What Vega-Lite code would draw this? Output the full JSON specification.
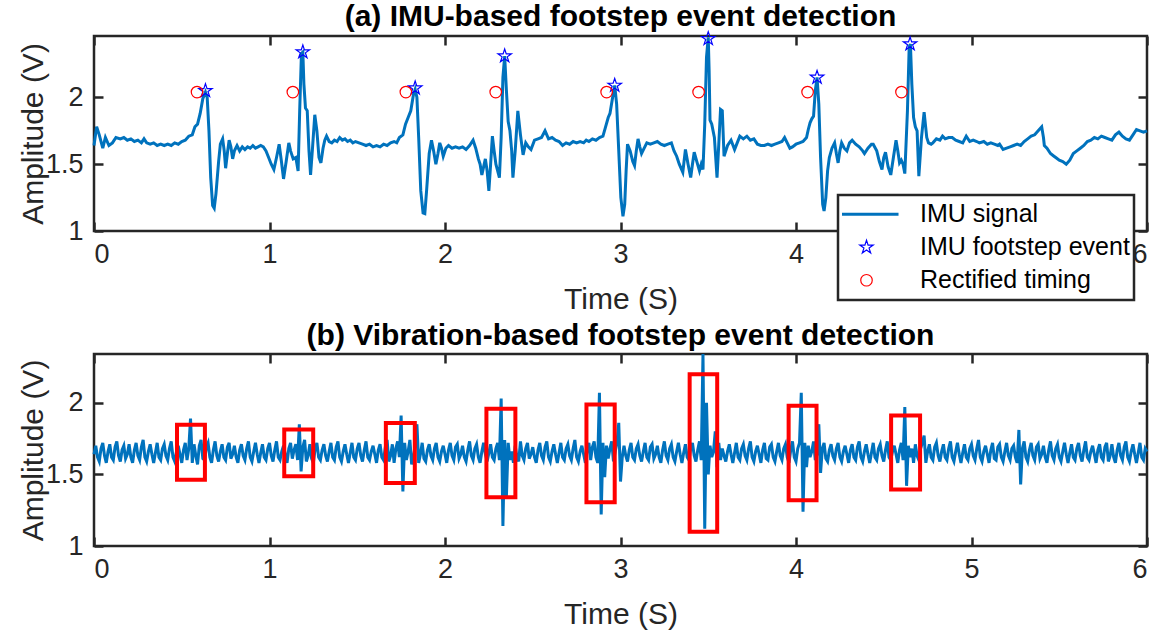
{
"$schema": "https://vega.github.io/schema/vega-lite/v6.json",
"padding": {"left": 17, "top": 0, "right": 5, "bottom": 0},
"background": "white",
"spacing": 3,
"config": {
  "font": "Liberation Sans",
  "view": {"stroke": "#262626", "strokeWidth": 2.5},
  "axis": {"grid": false, "domain": false, "tickColor": "#262626", "tickWidth": 2.5, "tickSize": 9, "offset": -9, "labelColor": "#262626", "labelFontSize": 27, "titleColor": "#262626", "titleFontSize": 30, "titleFontWeight": "normal"},
  "axisLeft": {"labelPadding": 11, "titlePadding": -3},
  "axisBottom": {"labelPadding": 10, "titlePadding": 17},
  "title": {"fontSize": 30, "fontWeight": "bold", "color": "black", "anchor": "middle", "offset": -3}
},
"vconcat": [
  {
    "title": "(a) IMU-based footstep event detection",
    "width": 1053,
    "height": 195,
    "resolve": {"axis": {"x": "independent", "y": "independent"}},
    "layer": [
      {
        "data": {"values": [
{"t":0,"v":1.64},{"t":0.015,"v":1.78},{"t":0.03,"v":1.72},{"t":0.05,"v":1.62},{"t":0.065,"v":1.7},{"t":0.085,"v":1.64},{"t":0.105,"v":1.66},{"t":0.125,"v":1.7},{"t":0.15,"v":1.69},{"t":0.17,"v":1.7},{"t":0.19,"v":1.68},{"t":0.21,"v":1.69},{"t":0.23,"v":1.67},{"t":0.25,"v":1.68},{"t":0.27,"v":1.66},{"t":0.285,"v":1.69},{"t":0.3,"v":1.66},{"t":0.32,"v":1.65},{"t":0.34,"v":1.66},{"t":0.36,"v":1.64},{"t":0.38,"v":1.65},{"t":0.4,"v":1.64},{"t":0.42,"v":1.65},{"t":0.44,"v":1.64},{"t":0.46,"v":1.66},{"t":0.48,"v":1.65},{"t":0.5,"v":1.67},{"t":0.52,"v":1.68},{"t":0.54,"v":1.71},{"t":0.56,"v":1.72},{"t":0.575,"v":1.78},{"t":0.59,"v":1.8},{"t":0.605,"v":1.88},{"t":0.62,"v":1.99},{"t":0.635,"v":2.04},{"t":0.645,"v":2.0},{"t":0.655,"v":1.75},{"t":0.665,"v":1.4},{"t":0.676,"v":1.19},{"t":0.685,"v":1.17},{"t":0.695,"v":1.28},{"t":0.71,"v":1.52},{"t":0.72,"v":1.65},{"t":0.733,"v":1.69},{"t":0.742,"v":1.6},{"t":0.75,"v":1.47},{"t":0.76,"v":1.58},{"t":0.77,"v":1.68},{"t":0.78,"v":1.63},{"t":0.79,"v":1.54},{"t":0.8,"v":1.6},{"t":0.815,"v":1.64},{"t":0.83,"v":1.6},{"t":0.845,"v":1.63},{"t":0.86,"v":1.61},{"t":0.875,"v":1.63},{"t":0.89,"v":1.62},{"t":0.905,"v":1.64},{"t":0.92,"v":1.62},{"t":0.935,"v":1.63},{"t":0.95,"v":1.64},{"t":0.965,"v":1.63},{"t":0.98,"v":1.6},{"t":0.995,"v":1.55},{"t":1.01,"v":1.5},{"t":1.025,"v":1.46},{"t":1.04,"v":1.55},{"t":1.055,"v":1.65},{"t":1.068,"v":1.52},{"t":1.08,"v":1.39},{"t":1.095,"v":1.52},{"t":1.11,"v":1.66},{"t":1.12,"v":1.6},{"t":1.135,"v":1.54},{"t":1.15,"v":1.55},{"t":1.163,"v":1.45},{"t":1.172,"v":1.9},{"t":1.182,"v":2.33},{"t":1.19,"v":2.34},{"t":1.196,"v":2.1},{"t":1.205,"v":1.92},{"t":1.215,"v":1.9},{"t":1.225,"v":1.6},{"t":1.234,"v":1.42},{"t":1.245,"v":1.62},{"t":1.258,"v":1.87},{"t":1.27,"v":1.75},{"t":1.282,"v":1.55},{"t":1.293,"v":1.51},{"t":1.305,"v":1.62},{"t":1.315,"v":1.68},{"t":1.325,"v":1.71},{"t":1.34,"v":1.67},{"t":1.355,"v":1.66},{"t":1.37,"v":1.68},{"t":1.385,"v":1.67},{"t":1.4,"v":1.7},{"t":1.415,"v":1.68},{"t":1.43,"v":1.69},{"t":1.445,"v":1.67},{"t":1.46,"v":1.68},{"t":1.475,"v":1.66},{"t":1.49,"v":1.67},{"t":1.51,"v":1.66},{"t":1.53,"v":1.65},{"t":1.55,"v":1.64},{"t":1.57,"v":1.65},{"t":1.59,"v":1.63},{"t":1.61,"v":1.64},{"t":1.63,"v":1.63},{"t":1.65,"v":1.65},{"t":1.67,"v":1.64},{"t":1.69,"v":1.66},{"t":1.71,"v":1.67},{"t":1.725,"v":1.66},{"t":1.74,"v":1.7},{"t":1.76,"v":1.72},{"t":1.775,"v":1.8},{"t":1.79,"v":1.85},{"t":1.805,"v":1.9},{"t":1.82,"v":2.02},{"t":1.83,"v":2.06},{"t":1.84,"v":2.0},{"t":1.85,"v":1.7},{"t":1.862,"v":1.3},{"t":1.875,"v":1.135},{"t":1.885,"v":1.13},{"t":1.895,"v":1.3},{"t":1.91,"v":1.58},{"t":1.923,"v":1.68},{"t":1.935,"v":1.6},{"t":1.948,"v":1.5},{"t":1.96,"v":1.58},{"t":1.97,"v":1.66},{"t":1.98,"v":1.62},{"t":1.99,"v":1.56},{"t":2.005,"v":1.62},{"t":2.02,"v":1.64},{"t":2.04,"v":1.62},{"t":2.06,"v":1.63},{"t":2.08,"v":1.62},{"t":2.1,"v":1.63},{"t":2.12,"v":1.61},{"t":2.14,"v":1.64},{"t":2.16,"v":1.68},{"t":2.175,"v":1.62},{"t":2.19,"v":1.54},{"t":2.2,"v":1.5},{"t":2.21,"v":1.42},{"t":2.22,"v":1.48},{"t":2.23,"v":1.54},{"t":2.24,"v":1.45},{"t":2.25,"v":1.3},{"t":2.26,"v":1.5},{"t":2.27,"v":1.71},{"t":2.28,"v":1.6},{"t":2.29,"v":1.5},{"t":2.3,"v":1.45},{"t":2.31,"v":1.4},{"t":2.32,"v":1.7},{"t":2.33,"v":2.15},{"t":2.34,"v":2.31},{"t":2.35,"v":2.05},{"t":2.36,"v":1.82},{"t":2.37,"v":1.75},{"t":2.38,"v":1.6},{"t":2.387,"v":1.4},{"t":2.4,"v":1.6},{"t":2.415,"v":1.9},{"t":2.43,"v":1.72},{"t":2.445,"v":1.57},{"t":2.46,"v":1.66},{"t":2.475,"v":1.63},{"t":2.49,"v":1.61},{"t":2.51,"v":1.68},{"t":2.53,"v":1.69},{"t":2.55,"v":1.7},{"t":2.57,"v":1.75},{"t":2.59,"v":1.69},{"t":2.61,"v":1.7},{"t":2.63,"v":1.68},{"t":2.65,"v":1.67},{"t":2.67,"v":1.64},{"t":2.69,"v":1.66},{"t":2.71,"v":1.65},{"t":2.73,"v":1.67},{"t":2.75,"v":1.66},{"t":2.77,"v":1.67},{"t":2.79,"v":1.66},{"t":2.805,"v":1.68},{"t":2.82,"v":1.67},{"t":2.84,"v":1.69},{"t":2.86,"v":1.68},{"t":2.88,"v":1.7},{"t":2.9,"v":1.71},{"t":2.915,"v":1.78},{"t":2.93,"v":1.85},{"t":2.94,"v":1.88},{"t":2.955,"v":2.0},{"t":2.967,"v":2.09},{"t":2.978,"v":1.95},{"t":2.99,"v":1.6},{"t":3.002,"v":1.25},{"t":3.014,"v":1.11},{"t":3.024,"v":1.2},{"t":3.032,"v":1.45},{"t":3.04,"v":1.65},{"t":3.055,"v":1.6},{"t":3.07,"v":1.52},{"t":3.08,"v":1.49},{"t":3.09,"v":1.6},{"t":3.1,"v":1.69},{"t":3.11,"v":1.63},{"t":3.12,"v":1.58},{"t":3.135,"v":1.62},{"t":3.15,"v":1.66},{"t":3.17,"v":1.65},{"t":3.19,"v":1.66},{"t":3.21,"v":1.67},{"t":3.23,"v":1.65},{"t":3.25,"v":1.64},{"t":3.27,"v":1.65},{"t":3.29,"v":1.66},{"t":3.305,"v":1.6},{"t":3.32,"v":1.56},{"t":3.335,"v":1.5},{"t":3.355,"v":1.44},{"t":3.37,"v":1.61},{"t":3.385,"v":1.5},{"t":3.4,"v":1.4},{"t":3.41,"v":1.5},{"t":3.42,"v":1.59},{"t":3.435,"v":1.52},{"t":3.45,"v":1.45},{"t":3.46,"v":1.5},{"t":3.47,"v":1.46},{"t":3.48,"v":1.8},{"t":3.49,"v":2.3},{"t":3.5,"v":2.45},{"t":3.505,"v":2.2},{"t":3.51,"v":1.83},{"t":3.52,"v":1.8},{"t":3.535,"v":1.7},{"t":3.55,"v":1.4},{"t":3.56,"v":1.65},{"t":3.57,"v":1.91},{"t":3.58,"v":1.9},{"t":3.59,"v":1.56},{"t":3.61,"v":1.64},{"t":3.63,"v":1.68},{"t":3.65,"v":1.61},{"t":3.665,"v":1.66},{"t":3.68,"v":1.71},{"t":3.7,"v":1.69},{"t":3.72,"v":1.71},{"t":3.74,"v":1.68},{"t":3.76,"v":1.69},{"t":3.78,"v":1.65},{"t":3.8,"v":1.64},{"t":3.82,"v":1.64},{"t":3.84,"v":1.65},{"t":3.86,"v":1.64},{"t":3.88,"v":1.65},{"t":3.9,"v":1.66},{"t":3.92,"v":1.67},{"t":3.935,"v":1.7},{"t":3.95,"v":1.66},{"t":3.965,"v":1.62},{"t":3.98,"v":1.63},{"t":4.0,"v":1.65},{"t":4.02,"v":1.66},{"t":4.04,"v":1.67},{"t":4.06,"v":1.7},{"t":4.07,"v":1.76},{"t":4.08,"v":1.81},{"t":4.09,"v":1.84},{"t":4.1,"v":1.86},{"t":4.11,"v":2.05},{"t":4.12,"v":2.15},{"t":4.13,"v":1.95},{"t":4.14,"v":1.55},{"t":4.152,"v":1.2},{"t":4.16,"v":1.15},{"t":4.17,"v":1.25},{"t":4.18,"v":1.45},{"t":4.19,"v":1.55},{"t":4.205,"v":1.62},{"t":4.22,"v":1.66},{"t":4.23,"v":1.58},{"t":4.24,"v":1.51},{"t":4.25,"v":1.6},{"t":4.26,"v":1.66},{"t":4.275,"v":1.62},{"t":4.29,"v":1.6},{"t":4.305,"v":1.66},{"t":4.32,"v":1.68},{"t":4.34,"v":1.65},{"t":4.36,"v":1.63},{"t":4.38,"v":1.6},{"t":4.39,"v":1.58},{"t":4.41,"v":1.62},{"t":4.43,"v":1.65},{"t":4.44,"v":1.65},{"t":4.46,"v":1.6},{"t":4.475,"v":1.52},{"t":4.49,"v":1.46},{"t":4.5,"v":1.55},{"t":4.51,"v":1.59},{"t":4.525,"v":1.48},{"t":4.54,"v":1.42},{"t":4.555,"v":1.55},{"t":4.57,"v":1.68},{"t":4.58,"v":1.6},{"t":4.59,"v":1.51},{"t":4.6,"v":1.53},{"t":4.61,"v":1.5},{"t":4.62,"v":1.43},{"t":4.635,"v":1.9},{"t":4.645,"v":2.38},{"t":4.652,"v":2.4},{"t":4.66,"v":2.1},{"t":4.67,"v":1.85},{"t":4.68,"v":1.78},{"t":4.69,"v":1.75},{"t":4.7,"v":1.41},{"t":4.715,"v":1.7},{"t":4.73,"v":1.89},{"t":4.745,"v":1.7},{"t":4.755,"v":1.66},{"t":4.77,"v":1.65},{"t":4.78,"v":1.66},{"t":4.8,"v":1.69},{"t":4.82,"v":1.68},{"t":4.835,"v":1.71},{"t":4.85,"v":1.69},{"t":4.87,"v":1.7},{"t":4.89,"v":1.7},{"t":4.91,"v":1.68},{"t":4.93,"v":1.67},{"t":4.95,"v":1.66},{"t":4.97,"v":1.71},{"t":4.99,"v":1.67},{"t":5.01,"v":1.68},{"t":5.03,"v":1.67},{"t":5.045,"v":1.66},{"t":5.07,"v":1.67},{"t":5.09,"v":1.65},{"t":5.11,"v":1.66},{"t":5.13,"v":1.65},{"t":5.15,"v":1.64},{"t":5.16,"v":1.65},{"t":5.18,"v":1.61},{"t":5.2,"v":1.62},{"t":5.22,"v":1.63},{"t":5.24,"v":1.64},{"t":5.26,"v":1.65},{"t":5.28,"v":1.64},{"t":5.3,"v":1.67},{"t":5.32,"v":1.69},{"t":5.34,"v":1.71},{"t":5.36,"v":1.72},{"t":5.38,"v":1.75},{"t":5.4,"v":1.78},{"t":5.41,"v":1.7},{"t":5.415,"v":1.64},{"t":5.43,"v":1.62},{"t":5.45,"v":1.58},{"t":5.47,"v":1.56},{"t":5.48,"v":1.55},{"t":5.5,"v":1.53},{"t":5.52,"v":1.52},{"t":5.54,"v":1.5},{"t":5.56,"v":1.53},{"t":5.58,"v":1.58},{"t":5.6,"v":1.6},{"t":5.62,"v":1.62},{"t":5.64,"v":1.64},{"t":5.66,"v":1.67},{"t":5.68,"v":1.68},{"t":5.7,"v":1.7},{"t":5.72,"v":1.69},{"t":5.74,"v":1.71},{"t":5.76,"v":1.7},{"t":5.78,"v":1.69},{"t":5.8,"v":1.68},{"t":5.82,"v":1.72},{"t":5.84,"v":1.74},{"t":5.86,"v":1.71},{"t":5.88,"v":1.69},{"t":5.9,"v":1.68},{"t":5.92,"v":1.72},{"t":5.94,"v":1.76},{"t":5.96,"v":1.75},{"t":5.98,"v":1.74},{"t":6.0,"v":1.75}
        ]},
        "mark": {"type": "line", "strokeWidth": 3},
        "encoding": {
          "x": {"field": "t", "type": "quantitative", "scale": {"domain": [0, 6], "nice": false, "zero": false},
                "axis": {"orient": "bottom", "values": [0,1,2,3,4,5,6], "title": "Time (S)", "format": "~g"}},
          "y": {"field": "v", "type": "quantitative", "scale": {"domain": [1, 2.46], "nice": false, "zero": false},
                "axis": {"orient": "left", "values": [1, 1.5, 2], "title": "Amplitude (V)", "format": "~g"}},
          "stroke": {"datum": "IMU signal", "type": "nominal",
                     "scale": {"domain": ["IMU signal", "IMU footstep event", "Rectified timing"], "range": ["#0072BD", "#0000FF", "#FF0000"]},
                     "legend": {"title": null, "orient": "none", "legendX": 744, "legendY": 159, "labelFontSize": 25, "labelColor": "black", "labelLimit": 400, "symbolSize": 4100, "symbolType": "stroke", "symbolStrokeWidth": 3, "clipHeight": 30.5, "rowPadding": 2, "padding": 4, "symbolOffset": 12, "labelOffset": 41, "strokeColor": "#262626", "fillColor": "white",
                       "encode": {
                         "legend": {"update": {"strokeWidth": {"value": 2.5}}},
                         "symbols": {"update": {
                           "shape": {"signal": "datum.value === 'IMU signal' ? 'stroke' : (datum.value === 'IMU footstep event' ? 'M0,-1L0.2245,-0.309L0.951,-0.309L0.363,0.118L0.588,0.809L0,0.382L-0.588,0.809L-0.363,0.118L-0.951,-0.309L-0.2245,-0.309Z' : 'circle')"},
                           "size": {"signal": "datum.value === 'IMU signal' ? 4100 : (datum.value === 'IMU footstep event' ? 200 : 133)"},
                           "strokeWidth": {"signal": "datum.value === 'IMU signal' ? 3 : 1.2"},
                           "fill": {"value": "transparent"}
                         }}
                       }}}
        }
      },
      {
        "data": {"values": [
{"t":0.635,"v":2.05},{"t":1.19,"v":2.34},{"t":1.83,"v":2.07},{"t":2.34,"v":2.31},{"t":2.967,"v":2.09},{"t":3.5,"v":2.44},{"t":4.12,"v":2.15},{"t":4.65,"v":2.4}
        ]},
        "mark": {"type": "point", "shape": "M0,-1L0.2245,-0.309L0.951,-0.309L0.363,0.118L0.588,0.809L0,0.382L-0.588,0.809L-0.363,0.118L-0.951,-0.309L-0.2245,-0.309Z", "size": 200, "filled": false, "stroke": "#0000FF", "strokeWidth": 1.2, "opacity": 1},
        "encoding": {
          "x": {"field": "t", "type": "quantitative", "axis": {"orient": "top", "values": [0,1,2,3,4,5,6], "labels": false, "title": null}},
          "y": {"field": "v", "type": "quantitative", "axis": {"orient": "right", "values": [1, 1.5, 2], "labels": false, "title": null}}
        }
      },
      {
        "data": {"values": [
{"t":0.587,"v":2.04},{"t":1.133,"v":2.04},{"t":1.777,"v":2.04},{"t":2.289,"v":2.04},{"t":2.921,"v":2.04},{"t":3.445,"v":2.04},{"t":4.066,"v":2.04},{"t":4.601,"v":2.04}
        ]},
        "mark": {"type": "point", "shape": "circle", "size": 133, "filled": false, "stroke": "#FF0000", "strokeWidth": 1.2, "opacity": 1},
        "encoding": {
          "x": {"field": "t", "type": "quantitative", "axis": null},
          "y": {"field": "v", "type": "quantitative", "axis": null}
        }
      }
    ]
  },
  {
    "title": "(b) Vibration-based footstep event detection",
    "width": 1053,
    "height": 192,
    "resolve": {"axis": {"x": "independent", "y": "independent"}},
    "layer": [
      {
        "data": {"values": [
{"t":0.00,"v":1.64},{"t":0.01,"v":1.70},{"t":0.02,"v":1.62},{"t":0.03,"v":1.59},{"t":0.04,"v":1.68},{"t":0.05,"v":1.72},{"t":0.06,"v":1.63},{"t":0.07,"v":1.58},{"t":0.08,"v":1.66},{"t":0.09,"v":1.71},
{"t":0.10,"v":1.62},{"t":0.11,"v":1.60},{"t":0.12,"v":1.69},{"t":0.13,"v":1.73},{"t":0.14,"v":1.63},{"t":0.15,"v":1.59},{"t":0.16,"v":1.67},{"t":0.17,"v":1.70},{"t":0.18,"v":1.61},{"t":0.19,"v":1.64},
{"t":0.20,"v":1.71},{"t":0.21,"v":1.62},{"t":0.22,"v":1.58},{"t":0.23,"v":1.67},{"t":0.24,"v":1.72},{"t":0.25,"v":1.63},{"t":0.26,"v":1.60},{"t":0.27,"v":1.69},{"t":0.28,"v":1.74},{"t":0.29,"v":1.62},
{"t":0.30,"v":1.59},{"t":0.31,"v":1.66},{"t":0.32,"v":1.71},{"t":0.33,"v":1.64},{"t":0.34,"v":1.58},{"t":0.35,"v":1.65},{"t":0.36,"v":1.72},{"t":0.37,"v":1.62},{"t":0.38,"v":1.60},{"t":0.39,"v":1.68},
{"t":0.40,"v":1.71},{"t":0.41,"v":1.63},{"t":0.42,"v":1.60},{"t":0.43,"v":1.68},{"t":0.44,"v":1.73},{"t":0.45,"v":1.62},{"t":0.46,"v":1.59},{"t":0.47,"v":1.66},{"t":0.48,"v":1.70},{"t":0.49,"v":1.64},
{"t":0.50,"v":1.58},{"t":0.51,"v":1.67},{"t":0.52,"v":1.72},{"t":0.53,"v":1.60},{"t":0.54,"v":1.68},{"t":0.55,"v":1.89},{"t":0.56,"v":1.58},{"t":0.57,"v":1.71},{"t":0.58,"v":1.63},{"t":0.59,"v":1.57},
{"t":0.60,"v":1.70},{"t":0.61,"v":1.74},{"t":0.62,"v":1.61},{"t":0.63,"v":1.60},{"t":0.64,"v":1.69},{"t":0.65,"v":1.72},{"t":0.66,"v":1.62},{"t":0.67,"v":1.58},{"t":0.68,"v":1.67},{"t":0.69,"v":1.73},
{"t":0.70,"v":1.63},{"t":0.71,"v":1.59},{"t":0.72,"v":1.66},{"t":0.73,"v":1.71},{"t":0.74,"v":1.62},{"t":0.75,"v":1.60},{"t":0.76,"v":1.69},{"t":0.77,"v":1.72},{"t":0.78,"v":1.61},{"t":0.79,"v":1.64},
{"t":0.80,"v":1.70},{"t":0.81,"v":1.62},{"t":0.82,"v":1.58},{"t":0.83,"v":1.67},{"t":0.84,"v":1.71},{"t":0.85,"v":1.63},{"t":0.86,"v":1.60},{"t":0.87,"v":1.68},{"t":0.88,"v":1.73},{"t":0.89,"v":1.62},
{"t":0.90,"v":1.59},{"t":0.91,"v":1.66},{"t":0.92,"v":1.72},{"t":0.93,"v":1.64},{"t":0.94,"v":1.58},{"t":0.95,"v":1.65},{"t":0.96,"v":1.71},{"t":0.97,"v":1.62},{"t":0.98,"v":1.60},{"t":0.99,"v":1.68},
{"t":1.00,"v":1.72},{"t":1.01,"v":1.63},{"t":1.02,"v":1.59},{"t":1.03,"v":1.67},{"t":1.04,"v":1.73},{"t":1.05,"v":1.62},{"t":1.06,"v":1.60},{"t":1.07,"v":1.66},{"t":1.08,"v":1.70},{"t":1.09,"v":1.64},
{"t":1.10,"v":1.58},{"t":1.11,"v":1.68},{"t":1.12,"v":1.72},{"t":1.13,"v":1.61},{"t":1.14,"v":1.67},{"t":1.15,"v":1.71},{"t":1.16,"v":1.60},{"t":1.17,"v":1.85},{"t":1.18,"v":1.52},{"t":1.19,"v":1.69},
{"t":1.20,"v":1.74},{"t":1.21,"v":1.59},{"t":1.22,"v":1.63},{"t":1.23,"v":1.71},{"t":1.24,"v":1.61},{"t":1.25,"v":1.58},{"t":1.26,"v":1.68},{"t":1.27,"v":1.72},{"t":1.28,"v":1.62},{"t":1.29,"v":1.60},
{"t":1.30,"v":1.67},{"t":1.31,"v":1.71},{"t":1.32,"v":1.63},{"t":1.33,"v":1.59},{"t":1.34,"v":1.66},{"t":1.35,"v":1.72},{"t":1.36,"v":1.62},{"t":1.37,"v":1.60},{"t":1.38,"v":1.69},{"t":1.39,"v":1.73},
{"t":1.40,"v":1.62},{"t":1.41,"v":1.59},{"t":1.42,"v":1.66},{"t":1.43,"v":1.71},{"t":1.44,"v":1.64},{"t":1.45,"v":1.58},{"t":1.46,"v":1.65},{"t":1.47,"v":1.72},{"t":1.48,"v":1.62},{"t":1.49,"v":1.60},
{"t":1.50,"v":1.68},{"t":1.51,"v":1.72},{"t":1.52,"v":1.63},{"t":1.53,"v":1.59},{"t":1.54,"v":1.67},{"t":1.55,"v":1.73},{"t":1.56,"v":1.62},{"t":1.57,"v":1.60},{"t":1.58,"v":1.66},{"t":1.59,"v":1.70},
{"t":1.60,"v":1.64},{"t":1.61,"v":1.58},{"t":1.62,"v":1.67},{"t":1.63,"v":1.71},{"t":1.64,"v":1.62},{"t":1.65,"v":1.60},{"t":1.66,"v":1.69},{"t":1.67,"v":1.74},{"t":1.68,"v":1.59},{"t":1.69,"v":1.63},
{"t":1.70,"v":1.71},{"t":1.71,"v":1.58},{"t":1.72,"v":1.68},{"t":1.73,"v":1.73},{"t":1.74,"v":1.62},{"t":1.75,"v":1.91},{"t":1.76,"v":1.38},{"t":1.77,"v":1.72},{"t":1.78,"v":1.60},{"t":1.79,"v":1.66},
{"t":1.80,"v":1.74},{"t":1.81,"v":1.57},{"t":1.82,"v":1.62},{"t":1.83,"v":1.70},{"t":1.84,"v":1.85},{"t":1.85,"v":1.58},{"t":1.86,"v":1.64},{"t":1.87,"v":1.72},{"t":1.88,"v":1.61},{"t":1.89,"v":1.59},
{"t":1.90,"v":1.67},{"t":1.91,"v":1.71},{"t":1.92,"v":1.63},{"t":1.93,"v":1.60},{"t":1.94,"v":1.68},{"t":1.95,"v":1.72},{"t":1.96,"v":1.62},{"t":1.97,"v":1.59},{"t":1.98,"v":1.66},{"t":1.99,"v":1.70},
{"t":2.00,"v":1.64},{"t":2.01,"v":1.58},{"t":2.02,"v":1.67},{"t":2.03,"v":1.72},{"t":2.04,"v":1.63},{"t":2.05,"v":1.60},{"t":2.06,"v":1.69},{"t":2.07,"v":1.71},{"t":2.08,"v":1.61},{"t":2.09,"v":1.64},
{"t":2.10,"v":1.70},{"t":2.11,"v":1.62},{"t":2.12,"v":1.59},{"t":2.13,"v":1.67},{"t":2.14,"v":1.73},{"t":2.15,"v":1.63},{"t":2.16,"v":1.60},{"t":2.17,"v":1.68},{"t":2.18,"v":1.71},{"t":2.19,"v":1.62},
{"t":2.20,"v":1.58},{"t":2.21,"v":1.66},{"t":2.22,"v":1.72},{"t":2.23,"v":1.64},{"t":2.24,"v":1.59},{"t":2.25,"v":1.65},{"t":2.26,"v":1.71},{"t":2.27,"v":1.62},{"t":2.28,"v":1.60},{"t":2.29,"v":1.68},
{"t":2.30,"v":1.72},{"t":2.31,"v":1.60},{"t":2.32,"v":2.03},{"t":2.33,"v":1.14},{"t":2.34,"v":1.74},{"t":2.35,"v":1.35},{"t":2.36,"v":1.72},{"t":2.37,"v":1.60},{"t":2.38,"v":1.66},{"t":2.39,"v":1.58},
{"t":2.40,"v":1.70},{"t":2.41,"v":1.62},{"t":2.42,"v":1.59},{"t":2.43,"v":1.73},{"t":2.44,"v":1.63},{"t":2.45,"v":1.60},{"t":2.46,"v":1.68},{"t":2.47,"v":1.72},{"t":2.48,"v":1.61},{"t":2.49,"v":1.64},
{"t":2.50,"v":1.69},{"t":2.51,"v":1.62},{"t":2.52,"v":1.58},{"t":2.53,"v":1.67},{"t":2.54,"v":1.72},{"t":2.55,"v":1.63},{"t":2.56,"v":1.60},{"t":2.57,"v":1.69},{"t":2.58,"v":1.73},{"t":2.59,"v":1.62},
{"t":2.60,"v":1.59},{"t":2.61,"v":1.66},{"t":2.62,"v":1.71},{"t":2.63,"v":1.64},{"t":2.64,"v":1.58},{"t":2.65,"v":1.65},{"t":2.66,"v":1.72},{"t":2.67,"v":1.62},{"t":2.68,"v":1.60},{"t":2.69,"v":1.68},
{"t":2.70,"v":1.71},{"t":2.71,"v":1.63},{"t":2.72,"v":1.60},{"t":2.73,"v":1.68},{"t":2.74,"v":1.74},{"t":2.75,"v":1.62},{"t":2.76,"v":1.59},{"t":2.77,"v":1.66},{"t":2.78,"v":1.70},{"t":2.79,"v":1.64},
{"t":2.80,"v":1.58},{"t":2.81,"v":1.67},{"t":2.82,"v":1.72},{"t":2.83,"v":1.60},{"t":2.84,"v":1.69},{"t":2.85,"v":1.73},{"t":2.86,"v":1.62},{"t":2.87,"v":1.58},{"t":2.88,"v":2.07},{"t":2.89,"v":1.22},
{"t":2.90,"v":1.72},{"t":2.91,"v":1.48},{"t":2.92,"v":1.70},{"t":2.93,"v":1.61},{"t":2.94,"v":1.68},{"t":2.95,"v":1.73},{"t":2.96,"v":1.59},{"t":2.97,"v":1.66},{"t":2.98,"v":1.72},{"t":2.99,"v":1.86},
{"t":3.00,"v":1.45},{"t":3.01,"v":1.62},{"t":3.02,"v":1.70},{"t":3.03,"v":1.63},{"t":3.04,"v":1.59},{"t":3.05,"v":1.67},{"t":3.06,"v":1.72},{"t":3.07,"v":1.62},{"t":3.08,"v":1.60},{"t":3.09,"v":1.68},
{"t":3.10,"v":1.71},{"t":3.11,"v":1.63},{"t":3.12,"v":1.59},{"t":3.13,"v":1.66},{"t":3.14,"v":1.72},{"t":3.15,"v":1.62},{"t":3.16,"v":1.60},{"t":3.17,"v":1.69},{"t":3.18,"v":1.71},{"t":3.19,"v":1.61},
{"t":3.20,"v":1.64},{"t":3.21,"v":1.70},{"t":3.22,"v":1.62},{"t":3.23,"v":1.58},{"t":3.24,"v":1.67},{"t":3.25,"v":1.73},{"t":3.26,"v":1.63},{"t":3.27,"v":1.60},{"t":3.28,"v":1.68},{"t":3.29,"v":1.71},
{"t":3.30,"v":1.62},{"t":3.31,"v":1.59},{"t":3.32,"v":1.66},{"t":3.33,"v":1.72},{"t":3.34,"v":1.64},{"t":3.35,"v":1.58},{"t":3.36,"v":1.65},{"t":3.37,"v":1.71},{"t":3.38,"v":1.62},{"t":3.39,"v":1.60},
{"t":3.40,"v":1.68},{"t":3.41,"v":1.72},{"t":3.42,"v":1.63},{"t":3.43,"v":1.59},{"t":3.44,"v":1.67},{"t":3.45,"v":1.73},{"t":3.46,"v":1.60},{"t":3.47,"v":2.34},{"t":3.48,"v":1.12},{"t":3.49,"v":2.00},
{"t":3.50,"v":1.50},{"t":3.51,"v":1.70},{"t":3.52,"v":1.62},{"t":3.53,"v":1.66},{"t":3.54,"v":1.80},{"t":3.55,"v":1.55},{"t":3.56,"v":1.72},{"t":3.57,"v":1.60},{"t":3.58,"v":1.68},{"t":3.59,"v":1.63},
{"t":3.60,"v":1.59},{"t":3.61,"v":1.66},{"t":3.62,"v":1.71},{"t":3.63,"v":1.64},{"t":3.64,"v":1.58},{"t":3.65,"v":1.65},{"t":3.66,"v":1.72},{"t":3.67,"v":1.62},{"t":3.68,"v":1.60},{"t":3.69,"v":1.68},
{"t":3.70,"v":1.71},{"t":3.71,"v":1.63},{"t":3.72,"v":1.60},{"t":3.73,"v":1.68},{"t":3.74,"v":1.73},{"t":3.75,"v":1.62},{"t":3.76,"v":1.59},{"t":3.77,"v":1.66},{"t":3.78,"v":1.70},{"t":3.79,"v":1.64},
{"t":3.80,"v":1.58},{"t":3.81,"v":1.67},{"t":3.82,"v":1.72},{"t":3.83,"v":1.61},{"t":3.84,"v":1.60},{"t":3.85,"v":1.69},{"t":3.86,"v":1.71},{"t":3.87,"v":1.62},{"t":3.88,"v":1.59},{"t":3.89,"v":1.66},
{"t":3.90,"v":1.72},{"t":3.91,"v":1.63},{"t":3.92,"v":1.60},{"t":3.93,"v":1.68},{"t":3.94,"v":1.71},{"t":3.95,"v":1.62},{"t":3.96,"v":1.58},{"t":3.97,"v":1.67},{"t":3.98,"v":1.73},{"t":3.99,"v":1.62},
{"t":4.00,"v":1.59},{"t":4.01,"v":1.68},{"t":4.02,"v":1.72},{"t":4.03,"v":2.07},{"t":4.04,"v":1.24},{"t":4.05,"v":1.72},{"t":4.06,"v":1.55},{"t":4.07,"v":1.70},{"t":4.08,"v":1.62},{"t":4.09,"v":1.66},
{"t":4.10,"v":1.73},{"t":4.11,"v":1.60},{"t":4.12,"v":1.64},{"t":4.13,"v":1.85},{"t":4.14,"v":1.51},{"t":4.15,"v":1.68},{"t":4.16,"v":1.72},{"t":4.17,"v":1.61},{"t":4.18,"v":1.59},{"t":4.19,"v":1.67},
{"t":4.20,"v":1.71},{"t":4.21,"v":1.63},{"t":4.22,"v":1.60},{"t":4.23,"v":1.68},{"t":4.24,"v":1.72},{"t":4.25,"v":1.62},{"t":4.26,"v":1.59},{"t":4.27,"v":1.66},{"t":4.28,"v":1.70},{"t":4.29,"v":1.64},
{"t":4.30,"v":1.58},{"t":4.31,"v":1.67},{"t":4.32,"v":1.71},{"t":4.33,"v":1.62},{"t":4.34,"v":1.60},{"t":4.35,"v":1.69},{"t":4.36,"v":1.73},{"t":4.37,"v":1.62},{"t":4.38,"v":1.59},{"t":4.39,"v":1.66},
{"t":4.40,"v":1.71},{"t":4.41,"v":1.64},{"t":4.42,"v":1.58},{"t":4.43,"v":1.65},{"t":4.44,"v":1.72},{"t":4.45,"v":1.62},{"t":4.46,"v":1.60},{"t":4.47,"v":1.68},{"t":4.48,"v":1.71},{"t":4.49,"v":1.63},
{"t":4.50,"v":1.59},{"t":4.51,"v":1.67},{"t":4.52,"v":1.73},{"t":4.53,"v":1.62},{"t":4.54,"v":1.60},{"t":4.55,"v":1.66},{"t":4.56,"v":1.70},{"t":4.57,"v":1.64},{"t":4.58,"v":1.58},{"t":4.59,"v":1.67},
{"t":4.60,"v":1.72},{"t":4.61,"v":1.60},{"t":4.62,"v":1.97},{"t":4.63,"v":1.42},{"t":4.64,"v":1.70},{"t":4.65,"v":1.62},{"t":4.66,"v":1.68},{"t":4.67,"v":1.58},{"t":4.68,"v":1.71},{"t":4.69,"v":1.63},
{"t":4.70,"v":1.60},{"t":4.71,"v":1.68},{"t":4.72,"v":1.72},{"t":4.73,"v":1.77},{"t":4.74,"v":1.58},{"t":4.75,"v":1.66},{"t":4.76,"v":1.71},{"t":4.77,"v":1.62},{"t":4.78,"v":1.60},{"t":4.79,"v":1.69},
{"t":4.80,"v":1.72},{"t":4.81,"v":1.63},{"t":4.82,"v":1.59},{"t":4.83,"v":1.66},{"t":4.84,"v":1.71},{"t":4.85,"v":1.62},{"t":4.86,"v":1.60},{"t":4.87,"v":1.68},{"t":4.88,"v":1.73},{"t":4.89,"v":1.62},
{"t":4.90,"v":1.59},{"t":4.91,"v":1.66},{"t":4.92,"v":1.72},{"t":4.93,"v":1.64},{"t":4.94,"v":1.58},{"t":4.95,"v":1.65},{"t":4.96,"v":1.71},{"t":4.97,"v":1.62},{"t":4.98,"v":1.60},{"t":4.99,"v":1.68},
{"t":5.00,"v":1.71},{"t":5.01,"v":1.63},{"t":5.02,"v":1.60},{"t":5.03,"v":1.68},{"t":5.04,"v":1.74},{"t":5.05,"v":1.62},{"t":5.06,"v":1.59},{"t":5.07,"v":1.66},{"t":5.08,"v":1.70},{"t":5.09,"v":1.64},
{"t":5.10,"v":1.58},{"t":5.11,"v":1.67},{"t":5.12,"v":1.72},{"t":5.13,"v":1.61},{"t":5.14,"v":1.60},{"t":5.15,"v":1.69},{"t":5.16,"v":1.71},{"t":5.17,"v":1.62},{"t":5.18,"v":1.59},{"t":5.19,"v":1.66},
{"t":5.20,"v":1.72},{"t":5.21,"v":1.63},{"t":5.22,"v":1.60},{"t":5.23,"v":1.68},{"t":5.24,"v":1.70},{"t":5.25,"v":1.62},{"t":5.26,"v":1.58},{"t":5.27,"v":1.81},{"t":5.28,"v":1.43},{"t":5.29,"v":1.68},
{"t":5.30,"v":1.73},{"t":5.31,"v":1.62},{"t":5.32,"v":1.59},{"t":5.33,"v":1.67},{"t":5.34,"v":1.72},{"t":5.35,"v":1.63},{"t":5.36,"v":1.60},{"t":5.37,"v":1.69},{"t":5.38,"v":1.71},{"t":5.39,"v":1.61},
{"t":5.40,"v":1.64},{"t":5.41,"v":1.70},{"t":5.42,"v":1.62},{"t":5.43,"v":1.58},{"t":5.44,"v":1.67},{"t":5.45,"v":1.73},{"t":5.46,"v":1.63},{"t":5.47,"v":1.60},{"t":5.48,"v":1.68},{"t":5.49,"v":1.71},
{"t":5.50,"v":1.62},{"t":5.51,"v":1.59},{"t":5.52,"v":1.66},{"t":5.53,"v":1.72},{"t":5.54,"v":1.64},{"t":5.55,"v":1.58},{"t":5.56,"v":1.65},{"t":5.57,"v":1.71},{"t":5.58,"v":1.62},{"t":5.59,"v":1.60},
{"t":5.60,"v":1.68},{"t":5.61,"v":1.72},{"t":5.62,"v":1.63},{"t":5.63,"v":1.59},{"t":5.64,"v":1.67},{"t":5.65,"v":1.73},{"t":5.66,"v":1.62},{"t":5.67,"v":1.60},{"t":5.68,"v":1.66},{"t":5.69,"v":1.70},
{"t":5.70,"v":1.64},{"t":5.71,"v":1.58},{"t":5.72,"v":1.67},{"t":5.73,"v":1.71},{"t":5.74,"v":1.62},{"t":5.75,"v":1.60},{"t":5.76,"v":1.69},{"t":5.77,"v":1.72},{"t":5.78,"v":1.59},{"t":5.79,"v":1.63},
{"t":5.80,"v":1.71},{"t":5.81,"v":1.62},{"t":5.82,"v":1.58},{"t":5.83,"v":1.67},{"t":5.84,"v":1.72},{"t":5.85,"v":1.63},{"t":5.86,"v":1.60},{"t":5.87,"v":1.69},{"t":5.88,"v":1.73},{"t":5.89,"v":1.62},
{"t":5.90,"v":1.59},{"t":5.91,"v":1.66},{"t":5.92,"v":1.71},{"t":5.93,"v":1.64},{"t":5.94,"v":1.58},{"t":5.95,"v":1.65},{"t":5.96,"v":1.72},{"t":5.97,"v":1.62},{"t":5.98,"v":1.60},{"t":5.99,"v":1.68},
{"t":6.00,"v":1.66}
        ]},
        "mark": {"type": "line", "strokeWidth": 3, "color": "#0072BD"},
        "encoding": {
          "x": {"field": "t", "type": "quantitative", "scale": {"domain": [0, 6], "nice": false, "zero": false},
                "axis": {"orient": "bottom", "values": [0,1,2,3,4,5,6], "title": "Time (S)", "format": "~g"}},
          "y": {"field": "v", "type": "quantitative", "scale": {"domain": [1, 2.34], "nice": false, "zero": false},
                "axis": {"orient": "left", "values": [1, 1.5, 2], "title": "Amplitude (V)", "format": "~g"}}
        }
      },
      {
        "data": {"values": [
{"t1":0.473,"t2":0.632,"v1":1.462,"v2":1.846},{"t1":1.084,"t2":1.249,"v1":1.487,"v2":1.813},{"t1":1.663,"t2":1.828,"v1":1.44,"v2":1.858},{"t1":2.236,"t2":2.401,"v1":1.34,"v2":1.958},{"t1":2.806,"t2":2.967,"v1":1.306,"v2":1.988},{"t1":3.394,"t2":3.551,"v1":1.1,"v2":2.198},{"t1":3.958,"t2":4.117,"v1":1.32,"v2":1.978},{"t1":4.542,"t2":4.707,"v1":1.394,"v2":1.911}
        ]},
        "mark": {"type": "rect", "fill": "transparent", "stroke": "#FF0000", "strokeWidth": 4},
        "encoding": {
          "x": {"field": "t1", "type": "quantitative", "axis": {"orient": "top", "values": [0,1,2,3,4,5,6], "labels": false, "title": null}},
          "x2": {"field": "t2"},
          "y": {"field": "v1", "type": "quantitative", "axis": {"orient": "right", "values": [1, 1.5, 2], "labels": false, "title": null}},
          "y2": {"field": "v2"}
        }
      }
    ]
  }
]
}
